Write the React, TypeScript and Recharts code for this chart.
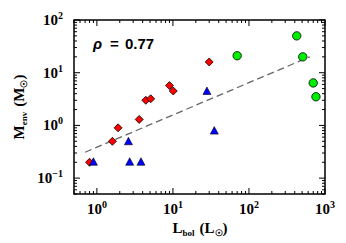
import { ScatterChart, Scatter, XAxis, YAxis, ReferenceArea } from 'recharts';

// Lbol (Lsun) / Menv (Msun)
const redL = [0.8, 1.6, 1.9, 3.6, 4.4, 5.1, 9.0, 10.1, 30];
const redM = [0.2, 0.5, 0.9, 1.3, 3.0, 3.2, 5.7, 4.5, 16];

const blueL = [0.9, 2.6, 2.7, 3.8, 28, 35];
const blueM = [0.2, 0.49, 0.2, 0.2, 4.4, 0.78];

const greenL = [70, 425, 510, 700, 760];
const greenM = [21, 50, 20, 6.4, 3.5];

const fitL = [0.7, 630];
const fitM = [0.31, 20];

const xTicks = [
  0.5, 0.6, 0.7, 0.8, 0.9, 1, 2, 3, 4, 5, 6, 7, 8, 9, 10, 20, 30, 40, 50, 60, 70, 80, 90,
  100, 200, 300, 400, 500, 600, 700, 800, 900, 1000,
];
const yTicks = [
  0.05, 0.06, 0.07, 0.08, 0.09, 0.1, 0.2, 0.3, 0.4, 0.5, 0.6, 0.7, 0.8, 0.9, 1, 2, 3, 4, 5,
  6, 7, 8, 9, 10, 20, 30, 40, 50, 60, 70, 80, 90, 100,
];

const toPts = (xs: number[], ys: number[]) => xs.map((x, i) => ({ x, y: ys[i] }));
const red = toPts(redL, redM);
const blue = toPts(blueL, blueM);
const green = toPts(greenL, greenM);
const fit = toPts(fitL, fitM);

const W = 346;
const H = 243;
const M = { top: 20, right: 21, bottom: 49, left: 74 };
const PLOT_TOP = M.top;
const PLOT_RIGHT = W - M.right;
const SERIF = '"Liberation Serif", "DejaVu Serif", serif';
const SANS = '"Liberation Sans", Arial, sans-serif';

const isMajor = (v: number) => Math.abs(Math.log10(v) - Math.round(Math.log10(v))) < 1e-6;
const expOf = (v: number) => {
  const e = Math.round(Math.log10(v));
  return e < 0 ? '\u2212' + Math.abs(e) : String(e);
};

const XTick = (props: any) => {
  const { x, y, payload } = props;
  const v = payload.value;
  const major = isMajor(v);
  const len = major ? 6 : 3;
  return (
    <g>
      <line x1={x} y1={y} x2={x} y2={y - len} stroke="#000" strokeWidth={1} />
      <line x1={x} y1={PLOT_TOP} x2={x} y2={PLOT_TOP + len} stroke="#000" strokeWidth={1} />
      {major && (
        <text x={x} y={y + 20} textAnchor="middle" fontFamily={SERIF} fontWeight="bold" fontSize={15} fill="#000">
          <tspan>10</tspan>
          <tspan fontSize={10} dy={-6}>{expOf(v)}</tspan>
        </text>
      )}
    </g>
  );
};

const YTick = (props: any) => {
  const { x, y, payload } = props;
  const v = payload.value;
  const major = isMajor(v);
  const len = major ? 6 : 3;
  return (
    <g>
      <line x1={x} y1={y} x2={x + len} y2={y} stroke="#000" strokeWidth={1} />
      <line x1={PLOT_RIGHT} y1={y} x2={PLOT_RIGHT - len} y2={y} stroke="#000" strokeWidth={1} />
      {major && (
        <text x={x - 11} y={y + 5} textAnchor="end" fontFamily={SERIF} fontWeight="bold" fontSize={15} fill="#000">
          <tspan>10</tspan>
          <tspan fontSize={10} dy={-6}>{expOf(v)}</tspan>
        </text>
      )}
    </g>
  );
};

const Diamond = (p: any) => {
  const { cx, cy } = p;
  const s = 4;
  return (
    <path
      d={`M${cx},${cy - s}L${cx + s},${cy}L${cx},${cy + s}L${cx - s},${cy}Z`}
      fill="#ff0000"
      stroke="#000"
      strokeWidth={0.8}
    />
  );
};

const Triangle = (p: any) => {
  const { cx, cy } = p;
  return (
    <path
      d={`M${cx},${cy - 4.5}L${cx + 4},${cy + 3}L${cx - 4},${cy + 3}Z`}
      fill="#0000ff"
      stroke="#000"
      strokeWidth={0.6}
    />
  );
};

const Circle = (p: any) => {
  const { cx, cy } = p;
  return <circle cx={cx} cy={cy} r={4.2} fill="#00ee00" stroke="#000" strokeWidth={0.8} />;
};

const NoDot = () => <g />;

export default function App() {
  return (
    <div style={{ position: 'absolute', left: 0, top: 0, width: W, height: H, background: '#fff' }}>
      <ScatterChart width={W} height={H} margin={{ top: M.top, right: M.right, bottom: 0, left: 0 }}>
        <XAxis
          dataKey="x"
          type="number"
          scale="log"
          domain={[0.5, 1000]}
          allowDataOverflow
          ticks={xTicks}
          interval={0}
          height={M.bottom}
          tickSize={0}
          tickMargin={0}
          axisLine={false}
          tickLine={false}
          tick={<XTick />}
        />
        <YAxis
          dataKey="y"
          type="number"
          scale="log"
          domain={[0.05, 100]}
          allowDataOverflow
          ticks={yTicks}
          interval={0}
          width={M.left}
          tickSize={0}
          tickMargin={0}
          axisLine={false}
          tickLine={false}
          tick={<YTick />}
        />
        <ReferenceArea x1={0.5} x2={1000} y1={0.05} y2={100} fill="none" stroke="#000" strokeWidth={1.5} ifOverflow="visible" />
        <Scatter
          data={fit}
          line={{ stroke: '#666', strokeWidth: 1.3, strokeDasharray: '7 4' }}
          shape={<NoDot />}
          isAnimationActive={false}
        />
        <Scatter data={red} shape={<Diamond />} isAnimationActive={false} />
        <Scatter data={blue} shape={<Triangle />} isAnimationActive={false} />
        <Scatter data={green} shape={<Circle />} isAnimationActive={false} />
        <text y={49} fontFamily={SANS} fontWeight="bold" fontSize={15} fill="#000">
          <tspan x={93} fontStyle="italic">{'\u03c1'}</tspan>
          <tspan x={110}>=</tspan>
          <tspan x={125}>0.77</tspan>
        </text>
        <text x={200} y={233} textAnchor="middle" fontFamily={SERIF} fontWeight="bold" fontSize={15} fill="#000">
          <tspan>L</tspan>
          <tspan fontSize={9} dy={3}>bol</tspan>
          <tspan dx={5} dy={-3}>(L</tspan>
          <tspan fontSize={9} dy={3}>{'\u2609'}</tspan>
          <tspan dy={-3}>)</tspan>
        </text>
        <text
          x={24}
          y={107}
          transform="rotate(-90 24 107)"
          textAnchor="middle"
          fontFamily={SERIF}
          fontWeight="bold"
          fontSize={15}
          fill="#000"
        >
          <tspan>M</tspan>
          <tspan fontSize={9} dy={3}>env</tspan>
          <tspan dx={5} dy={-3}>(M</tspan>
          <tspan fontSize={9} dy={3}>{'\u2609'}</tspan>
          <tspan dy={-3}>)</tspan>
        </text>
      </ScatterChart>
    </div>
  );
}
